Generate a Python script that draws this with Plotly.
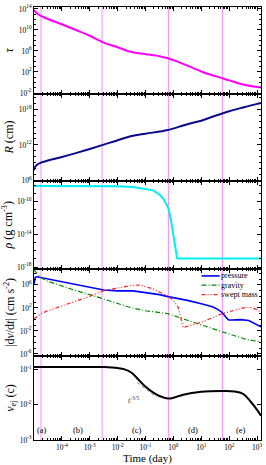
import plotly.graph_objects as go
from plotly.subplots import make_subplots

# ---------------- data ----------------
tau_t = [1e-5, 1.26e-5, 1.78e-5, 3.16e-5, 1e-4, 3.16e-4, 1e-3, 3.16e-3, 1e-2, 3.16e-2,
         0.1, 0.316, 0.631, 2.0, 10, 31.6, 100, 316, 1000, 1380]
tau_v = [6.3e13, 1.6e13, 5e12, 1.26e12, 1.26e11, 1e10, 7.9e8, 4e7, 5e6, 6.3e5,
         2.5e5, 1e5, 4e4, 4.5e3, 126, 16, 2.5, 0.4, 0.14, 0.126]

r_t = [1e-5, 1.07e-5, 1.26e-5, 1.78e-5, 3.16e-5, 1e-4, 3.16e-4, 1e-3, 3.16e-3, 1e-2,
       3.16e-2, 0.1, 0.316, 0.631, 3.16, 10, 31.6, 100, 316, 1000, 1380]
r_v = [5e7, 1.6e8, 4e8, 1e9, 2.2e9, 8.9e9, 4e10, 2e11, 1.1e12, 6.3e12,
       3.2e13, 7.9e13, 1.8e14, 3.2e14, 3.2e15, 1.26e16, 8.5e16, 5e17, 2.2e18, 8.9e18, 1.26e19]

rho_t = [1e-5, 1e-3, 1e-2, 3.55e-2, 0.1, 0.186, 0.316, 0.427, 0.562, 0.661,
         0.832, 1.0, 1.12, 1.35, 1.45, 1380]
rho_v = [8.9e-9, 8.5e-9, 7.9e-9, 6.6e-9, 4e-9, 2.5e-9, 7.9e-10, 2.5e-10, 5e-11, 1.6e-11,
         4e-13, 5e-15, 2.5e-16, 1.26e-17, 1.12e-17, 1.12e-17]

pres_t = [1e-5, 1.1e-5, 1.26e-5, 1.78e-5, 3.16e-5, 1e-4, 3.16e-4, 1e-3, 3.16e-3, 1e-2,
          1.78e-2, 3.55e-2, 0.1, 0.316, 0.631, 3.16, 10, 25, 40, 56, 79, 95, 126, 251, 500, 1000, 1380]
pres_v = [1e6, 2e7, 2.5e7, 1.8e7, 1e7, 4e6, 1.26e6, 3.5e5, 1.26e5, 8.9e4,
          8.9e4, 8.9e4, 4.5e4, 2e4, 8.9e3, 2e3, 500, 158, 50, 16, 2, 0.8, 0.8, 0.9, 0.63, 0.126, 0.05]

grav_t = [1e-5, 1.78e-5, 3.16e-5, 1e-4, 3.16e-4, 1e-3, 3.16e-3, 1e-2, 3.16e-2, 0.1,
          0.631, 3.16, 10, 56, 400, 1380]
grav_v = [4e8, 1.6e7, 4e6, 5.6e5, 1e5, 2e4, 3.2e3, 560, 100, 32,
          10, 0.71, 0.1, 7e-3, 3.5e-4, 1.26e-4]

swept_t = [1e-5, 1.78e-5, 3.16e-5, 1e-4, 3.16e-4, 1e-3, 3.16e-3, 1e-2, 3.16e-2, 6.3e-2,
           0.186, 0.646, 1.0, 1.48, 1.95, 2.24, 10, 56, 316, 562, 1000, 1380]
swept_v = [1.26, 10, 32, 200, 1.6e3, 1e4, 1e5, 3.2e5, 7.9e5, 8.9e5,
           2e5, 1e4, 2e3, 126, 0.79, 0.04, 0.32, 10, 100, 126, 50, 18]

vej_t = [1e-5, 3.16e-3, 6.3e-3, 1e-2, 1.78e-2, 3.16e-2, 5.62e-2, 0.1, 0.178, 0.316,
         0.631, 1.0, 2.24, 10, 56.2, 158, 316, 562, 1000, 1380]
vej_v = [0.1135, 0.1135, 0.111, 0.107, 0.098, 0.079, 0.05, 0.0316, 0.0224, 0.0174,
         0.0148, 0.0155, 0.019, 0.0229, 0.024, 0.0234, 0.02, 0.0126, 7.1e-3, 4.8e-3]

slope_t = [0.05, 0.26]
slope_v = [0.0417, 0.0158]

phase_bounds = [1.78e-5, 2.75e-3, 0.66, 57]
phase_labels = ["(a)", "(b)", "(c)", "(d)", "(e)"]

x_ticks = [1e-4, 1e-3, 1e-2, 1e-1, 1e0, 1e1, 1e2, 1e3]
x_ticktext = ["10<sup>-4</sup>", "10<sup>-3</sup>", "10<sup>-2</sup>", "10<sup>-1</sup>",
              "10<sup>0</sup>", "10<sup>1</sup>", "10<sup>2</sup>", "10<sup>3</sup>"]
tau_ticks = [1e-2, 1e2, 1e6, 1e10, 1e14]
tau_ticktext = ["10<sup>-2</sup>", "10<sup>2</sup>", "10<sup>6</sup>", "10<sup>10</sup>", "10<sup>14</sup>"]
r_ticks = [1e6, 1e12, 1e18]
r_ticktext = ["10<sup>6</sup>", "10<sup>12</sup>", "10<sup>18</sup>"]
rho_ticks = [1e-18, 1e-14, 1e-10]
rho_ticktext = ["10<sup>-18</sup>", "10<sup>-14</sup>", "10<sup>-10</sup>"]
acc_ticks = [1e-6, 1e-2, 1e2, 1e6]
acc_ticktext = ["10<sup>-6</sup>", "10<sup>-2</sup>", "10<sup>2</sup>", "10<sup>6</sup>"]
v_ticks = [1e-3, 1e-2, 1e-1]
v_ticktext = ["10<sup>-3</sup>", "10<sup>-2</sup>", "10<sup>-1</sup>"]

# ---------------- figure ----------------
SERIF = "Liberation Serif"
fig = make_subplots(rows=5, cols=1, shared_xaxes=True, vertical_spacing=0)

fig.add_trace(go.Scatter(x=tau_t, y=tau_v, mode="lines", line=dict(color="#ff00ff", width=2, shape="spline"),
                         showlegend=False), row=1, col=1)
fig.add_trace(go.Scatter(x=r_t, y=r_v, mode="lines", line=dict(color="#0a0a8c", width=2, shape="spline"),
                         showlegend=False), row=2, col=1)
fig.add_trace(go.Scatter(x=rho_t, y=rho_v, mode="lines", line=dict(color="#00f0f0", width=2),
                         showlegend=False), row=3, col=1)

acc_styles = [
    ("pressure", pres_t, pres_v, dict(color="#0000ff", width=1.6)),
    ("gravity", grav_t, grav_v, dict(color="#008a00", width=1.2, dash="5px,2px,1px,2px")),
    ("swept mass", swept_t, swept_v, dict(color="#ff2020", width=1.2, dash="4px,2px,1px,2px,1px,2px")),
]
for name, xs, ys, ln in acc_styles:
    fig.add_trace(go.Scatter(x=xs, y=ys, mode="lines", name=name, line=ln, showlegend=False), row=4, col=1)

fig.add_trace(go.Scatter(x=vej_t, y=vej_v, mode="lines", line=dict(color="black", width=2, shape="spline"),
                         showlegend=False), row=5, col=1)
fig.add_trace(go.Scatter(x=slope_t, y=slope_v, mode="lines", line=dict(color="#888888", width=1, dash="dot"),
                         showlegend=False), row=5, col=1)

# domains (stacked panels, no gap)
domains = [[0.8002, 1.0], [0.5993, 0.8002], [0.395, 0.5993], [0.1941, 0.395], [0.0, 0.1941]]
yranges = [[-2.1, 14.38], [5.97, 20.7], [-18.24, -7.39], [-6.34, 8.75], [-3.0, -0.63]]
yticks = [(tau_ticks, tau_ticktext), (r_ticks, r_ticktext), (rho_ticks, rho_ticktext),
          (acc_ticks, acc_ticktext), (v_ticks, v_ticktext)]
ytitles = ["<i>τ</i>", "<i>R</i> (cm)", "<i>ρ</i> (g cm<sup>-3</sup>)",
           "|d<i>v</i>/d<i>t</i>| (cm s<sup>-2</sup>)", "<i>v</i><sub>ej</sub> (c)"]

x_minor = [m * 10.0 ** k for k in range(-5, 4) for m in range(2, 10)]

for i in range(5):
    lo, hi = yranges[i]
    y_minor = [10.0 ** k for k in range(int(lo) - 1, int(hi) + 2)]
    fig.update_yaxes(row=i + 1, col=1, type="log", range=yranges[i], domain=domains[i],
                     tickvals=yticks[i][0], ticktext=yticks[i][1],
                     ticks="inside", ticklen=4, tickwidth=1, tickcolor="black",
                     minor=dict(tickvals=y_minor, ticks="inside", ticklen=2, tickcolor="black", showgrid=False),
                     showline=True, linecolor="black", linewidth=1, mirror="allticks",
                     showgrid=False, zeroline=False,
                     tickfont=dict(family=SERIF, size=7.5, color="black"),
                     title=dict(text=ytitles[i], font=dict(family=SERIF, size=12, color="black"), standoff=2))
    fig.update_xaxes(row=i + 1, col=1, type="log", range=[-5, 3.14],
                     tickvals=x_ticks, ticktext=x_ticktext,
                     ticks="inside", ticklen=4, tickwidth=1, tickcolor="black",
                     minor=dict(tickvals=x_minor, ticks="inside", ticklen=2, tickcolor="black", showgrid=False),
                     showline=True, linecolor="black", linewidth=1, mirror="allticks",
                     showgrid=False, zeroline=False, showticklabels=(i == 4),
                     tickfont=dict(family=SERIF, size=7.5, color="black"))

fig.update_xaxes(row=5, col=1, title=dict(text="Time (day)", font=dict(family=SERIF, size=11, color="black"),
                                          standoff=2))

# phase boundaries (vertical lines across all panels)
for b in phase_bounds:
    fig.add_shape(type="line", xref="x5", yref="paper", x0=b, x1=b, y0=0, y1=1,
                  line=dict(color="#ff88ff", width=1), layer="below")

# phase labels
label_x = [-4.71, -3.42, -1.32, 0.71, 2.43]
for lx, txt in zip(label_x, phase_labels):
    fig.add_annotation(x=lx, y=-2.71, xref="x5", yref="y5", text=txt, showarrow=False,
                       font=dict(family=SERIF, size=8.5, color="black"))

fig.add_annotation(x=-1.45, y=-1.88, xref="x5", yref="y5", text="<i>t</i><sup>-3/5</sup>", showarrow=False,
                   font=dict(family=SERIF, size=8, color="#333333"))

# compact legend for the acceleration panel (key samples + labels)
leg_rows = [0.92, 0.815, 0.705]
for (name, _, _, ln), yy in zip(acc_styles, leg_rows):
    fig.add_shape(type="line", xref="x4 domain", yref="y4 domain", x0=0.738, x1=0.818, y0=yy, y1=yy,
                  line=ln)
    fig.add_annotation(x=0.818, y=yy, xref="x4 domain", yref="y4 domain", text=name, showarrow=False,
                       xanchor="left", yanchor="middle", borderpad=0,
                       font=dict(family=SERIF, size=8, color="black"))

fig.update_layout(
    width=266, height=465,
    margin=dict(l=34, r=5, t=3, b=24),
    paper_bgcolor="white", plot_bgcolor="white",
    showlegend=False,
    font=dict(family=SERIF, color="black"),
)

fig.write_html("out.html", config={"displayModeBar": False},
               post_script="document.body.style.margin='0';")
